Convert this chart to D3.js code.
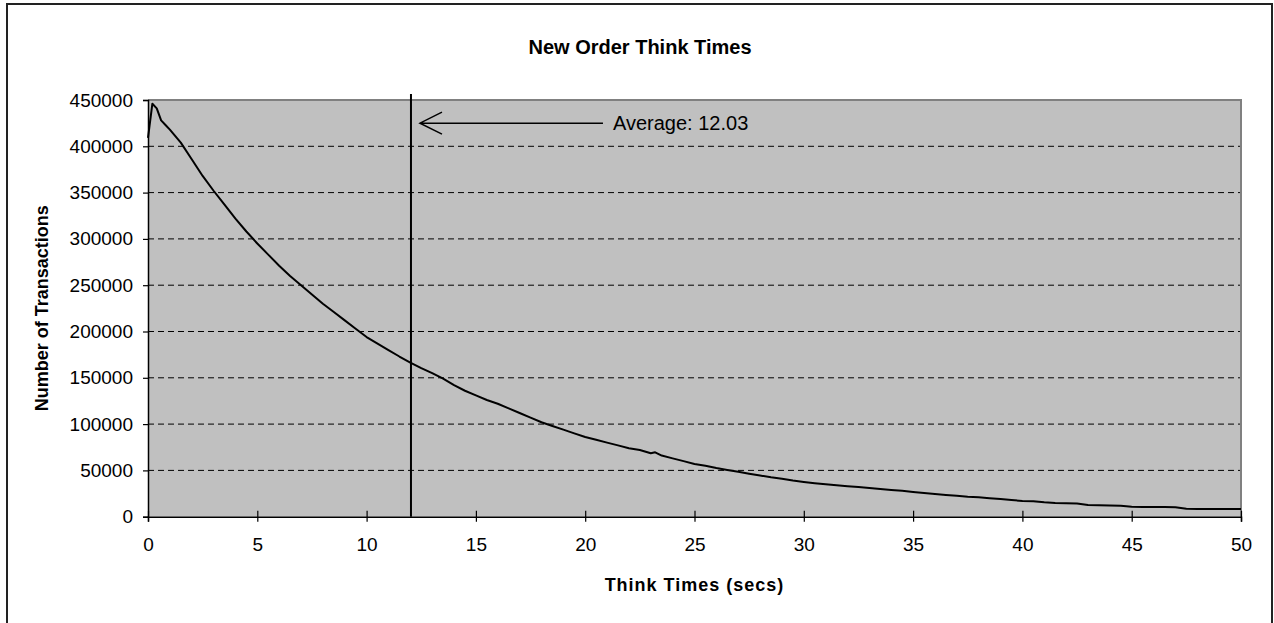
<!DOCTYPE html>
<html>
<head>
<meta charset="utf-8">
<script src="https://cdn.jsdelivr.net/npm/d3@7"></script>
<style>
  html, body { margin: 0; padding: 0; background: #fff; }
  svg { display: block; }
  text { font-family: "Liberation Sans", Arial, sans-serif; fill: #000; }
</style>
</head>
<body>
<svg id="chart" width="1274" height="623"></svg>
<script>
// ---- Data ----
const thinkTimes = [0, 0.2, 0.4, 0.6, 0.8, 1.0, 1.5, 2.0, 2.5, 3.0, 3.5, 4.0, 4.5, 5.0, 5.5, 6.0, 6.5, 7.0, 7.5, 8.0, 8.5, 9.0, 9.5, 10.0,
  10.5, 11.0, 11.5, 12.0, 12.5, 13.0, 13.5, 14.0, 14.5, 15.0, 15.5, 16.0, 16.5, 17.0, 17.5, 18.0, 18.5, 19.0, 19.5, 20.0,
  20.5, 21.0, 21.5, 22.0, 22.5, 23.0, 23.2, 23.5, 24.0, 24.5, 25.0, 25.5, 26.0, 26.5, 27.0, 27.5, 28.0, 28.5, 29.0, 29.5, 30.0,
  30.5, 31.0, 31.5, 32.0, 32.5, 33.0, 33.5, 34.0, 34.5, 35.0, 35.5, 36.0, 36.5, 37.0, 37.5, 38.0, 38.5, 39.0, 39.5, 40.0,
  40.5, 41.0, 41.5, 42.0, 42.5, 43.0, 43.5, 44.0, 44.5, 45.0, 45.5, 46.0, 46.5, 47.0, 47.5, 48.0, 48.5, 49.0, 49.5, 50.0];
const transactions = [409000, 446000, 441000, 428000, 423000, 418000, 404000, 386000, 368000, 352000, 337000, 322000, 308000, 295000, 283000, 271000, 260000, 250000, 240000, 230000, 221000, 212000, 203000, 194000,
  187000, 180000, 173000, 166500, 160500, 155000, 149000, 142000, 136000, 131000, 126000, 122000, 117000, 112000, 107000, 102000, 98000, 94000, 90000, 86000,
  83000, 80000, 77000, 74000, 72000, 68500, 69500, 66000, 63000, 60000, 57000, 55000, 52500, 50500, 48500, 46500, 44500, 42500, 41000, 39000, 37500,
  36200, 35000, 34000, 33000, 32000, 31000, 29800, 28800, 28000, 26800, 25600, 24600, 23500, 22500, 21600, 21000, 20000, 19000, 18000, 17000,
  16700, 15500, 14800, 14600, 14300, 12600, 12300, 12200, 11800, 10800, 10600, 10500, 10400, 10200, 8500, 8400, 8300, 8300, 8200, 8200];
const averageThinkTime = 12.03;
const yTickValues = [0, 50000, 100000, 150000, 200000, 250000, 300000, 350000, 400000, 450000];
const xTickValues = [0, 5, 10, 15, 20, 25, 30, 35, 40, 45, 50];
const titleText = "New Order Think Times";
const xTitle = "Think Times (secs)";
const yTitle = "Number of Transactions";
const annotationText = "Average: 12.03";
const annotationY = 425000;

// ---- Layout ----
const svg = d3.select("#chart");
const plot = { left: 148, right: 1241, top: 100, bottom: 516.7 };

const x = d3.scaleLinear().domain([0, 50]).range([plot.left, plot.right]);
const y = d3.scaleLinear().domain([0, 450000]).range([plot.bottom, plot.top]);

// outer chart border
svg.append("rect")
  .attr("x", 7).attr("y", 4).attr("width", 1265).attr("height", 640)
  .attr("fill", "#fff").attr("stroke", "#222").attr("stroke-width", 2);

// plot background
svg.append("rect")
  .attr("x", plot.left).attr("y", plot.top)
  .attr("width", plot.right - plot.left).attr("height", plot.bottom - plot.top)
  .attr("fill", "#c0c0c0");

// gridlines (dashed)
svg.append("g").selectAll("line")
  .data(yTickValues.filter(v => v > 0 && v < 450000))
  .join("line")
  .attr("x1", plot.left).attr("x2", plot.right)
  .attr("y1", d => y(d)).attr("y2", d => y(d))
  .attr("stroke", "#000").attr("stroke-width", 1)
  .attr("stroke-dasharray", "6,4");

// top and right plot border (gray)
svg.append("path")
  .attr("d", `M${plot.left},${plot.top}H${plot.right}V${plot.bottom}`)
  .attr("fill", "none").attr("stroke", "#808080").attr("stroke-width", 2);

// data line
const line = d3.line().x((d, i) => x(thinkTimes[i])).y(d => y(d));
svg.append("path")
  .datum(transactions)
  .attr("d", line)
  .attr("fill", "none").attr("stroke", "#000").attr("stroke-width", 2)
  .attr("stroke-linejoin", "round");

// Y axis
const yAxis = d3.axisLeft(y).tickValues(yTickValues).tickSize(5).tickPadding(10)
  .tickFormat(d3.format("d"));
const gy = svg.append("g").attr("transform", `translate(${plot.left},0)`).call(yAxis);
gy.select(".domain").attr("stroke", "#000").attr("stroke-width", 1.5);
gy.selectAll(".tick line").attr("stroke", "#000").attr("stroke-width", 1.2);
gy.selectAll(".tick text").attr("font-size", 19).attr("font-family", "Liberation Sans, Arial, sans-serif");

// X axis (ticks crossing the axis)
const xAxis = d3.axisBottom(x).tickValues(xTickValues).tickSize(5).tickPadding(16)
  .tickFormat(d3.format("d"));
const gx = svg.append("g").attr("transform", `translate(0,${plot.bottom})`).call(xAxis);
gx.select(".domain").attr("stroke", "#000").attr("stroke-width", 1.5);
gx.selectAll(".tick line").attr("y1", -6).attr("y2", 5).attr("stroke", "#000").attr("stroke-width", 1.2);
gx.selectAll(".tick text").attr("font-size", 19).attr("font-family", "Liberation Sans, Arial, sans-serif");

// average vertical line
svg.append("line")
  .attr("x1", x(averageThinkTime)).attr("x2", x(averageThinkTime))
  .attr("y1", plot.top - 6).attr("y2", plot.bottom)
  .attr("stroke", "#000").attr("stroke-width", 2);

// arrow annotation
const tipX = x(averageThinkTime) + 9;
const tailX = tipX + 183;
const ay = y(annotationY);
svg.append("path")
  .attr("d", `M${tailX},${ay}H${tipX}M${tipX + 22},${ay - 11}L${tipX},${ay}L${tipX + 22},${ay + 11}`)
  .attr("fill", "none").attr("stroke", "#000").attr("stroke-width", 1.5);
svg.append("text")
  .attr("x", tailX + 10).attr("y", ay + 7)
  .attr("font-size", 20)
  .text(annotationText);

// titles
svg.append("text")
  .attr("x", 640).attr("y", 54)
  .attr("text-anchor", "middle").attr("font-weight", "bold").attr("font-size", 20)
  .text(titleText);

svg.append("text")
  .attr("x", (plot.left + plot.right) / 2).attr("y", 591)
  .attr("text-anchor", "middle").attr("font-weight", "bold").attr("font-size", 18)
  .attr("letter-spacing", 1)
  .text(xTitle);

svg.append("text")
  .attr("transform", `translate(48,${(plot.top + plot.bottom) / 2}) rotate(-90)`)
  .attr("text-anchor", "middle").attr("font-weight", "bold").attr("font-size", 18)
  .text(yTitle);
</script>
</body>
</html>
